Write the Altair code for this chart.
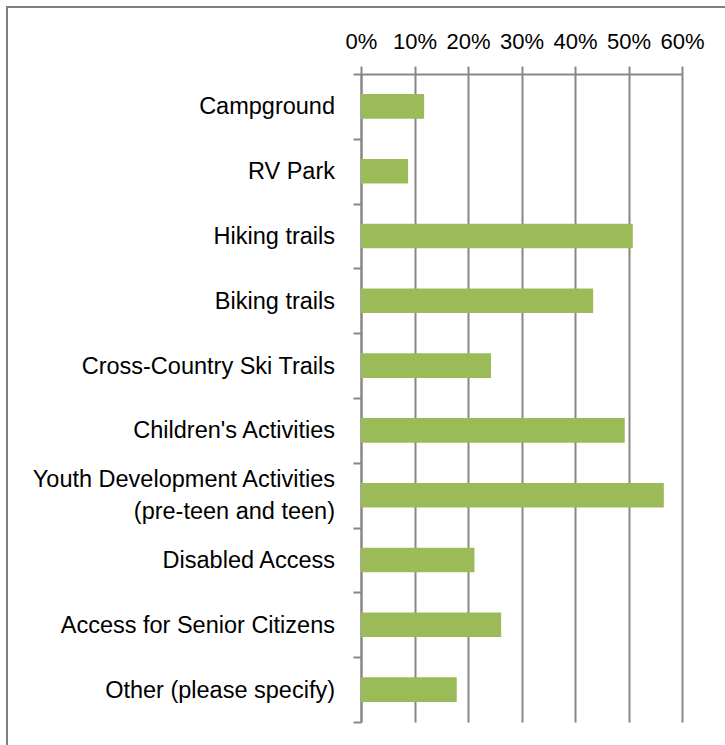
import altair as alt
import pandas as pd

categories = [
    "Campground",
    "RV Park",
    "Hiking trails",
    "Biking trails",
    "Cross-Country Ski Trails",
    "Children's Activities",
    "Youth Development Activities|(pre-teen and teen)",
    "Disabled Access",
    "Access for Senior Citizens",
    "Other (please specify)",
]
values = [0.118, 0.088, 0.508, 0.434, 0.243, 0.493, 0.566, 0.212, 0.262, 0.179]
x_ticks = [0, 0.1, 0.2, 0.3, 0.4, 0.5, 0.6]

df = pd.DataFrame({"category": categories, "value": values})

FONT = "Liberation Sans"
GRAY = "#878787"

y_enc = alt.Y(
    "category:N",
    sort=categories,
    scale=alt.Scale(paddingInner=0, paddingOuter=0),
    axis=alt.Axis(
        title=None,
        labels=False,
        domainColor=GRAY,
        domainWidth=2,
        tickColor=GRAY,
        tickWidth=2,
        tickSize=8,
        tickBand="extent",
        grid=False,
    ),
)

base = alt.Chart(df)

bars = base.mark_bar(color="#9BBB59", size=24.6).encode(
    x=alt.X(
        "value:Q",
        scale=alt.Scale(domain=[0, 0.6], nice=False, zero=True),
        axis=alt.Axis(
            orient="top",
            values=x_ticks,
            format=".0%",
            title=None,
            grid=True,
            gridColor=GRAY,
            gridWidth=2,
            domainColor=GRAY,
            domainWidth=2,
            tickColor=GRAY,
            tickWidth=2,
            tickSize=8,
            labelFont=FONT,
            labelFontSize=22,
            labelColor="#000000",
            labelPadding=13,
            labelOverlap=False,
            labelFlush=False,
        ),
    ),
    y=y_enc,
)

label_style = dict(
    align="right",
    baseline="middle",
    font=FONT,
    fontSize=23.5,
    color="#000000",
    lineBreak="|",
    lineHeight=32,
)

labels_single = (
    base.transform_filter("indexof(datum.category, '|') < 0")
    .mark_text(dy=1, **label_style)
    .encode(y=alt.Y("category:N", sort=categories), x=alt.value(-26), text="category:N")
)

labels_multi = (
    base.transform_filter("indexof(datum.category, '|') >= 0")
    .mark_text(dy=-15, **label_style)
    .encode(y=alt.Y("category:N", sort=categories), x=alt.value(-26), text="category:N")
)

frame = alt.Chart(alt.Data(values=[{"a": 1}])).mark_rect(
    fill=None, stroke="#7F7F7F", strokeWidth=2, clip=False
).encode(
    x=alt.value(-354),
    x2=alt.value(380),
    y=alt.value(-67),
    y2=alt.value(690),
)

chart = (
    alt.layer(bars, labels_single, labels_multi, frame)
    .properties(
        width=321,
        height=648,
        autosize=alt.AutoSizeParams(type="none"),
        padding={"left": 361, "top": 74, "right": 43, "bottom": 23},
        background="white",
    )
    .configure_view(stroke=None)
)

chart.save("out.html", embed_options={"renderer": "svg", "actions": False})
